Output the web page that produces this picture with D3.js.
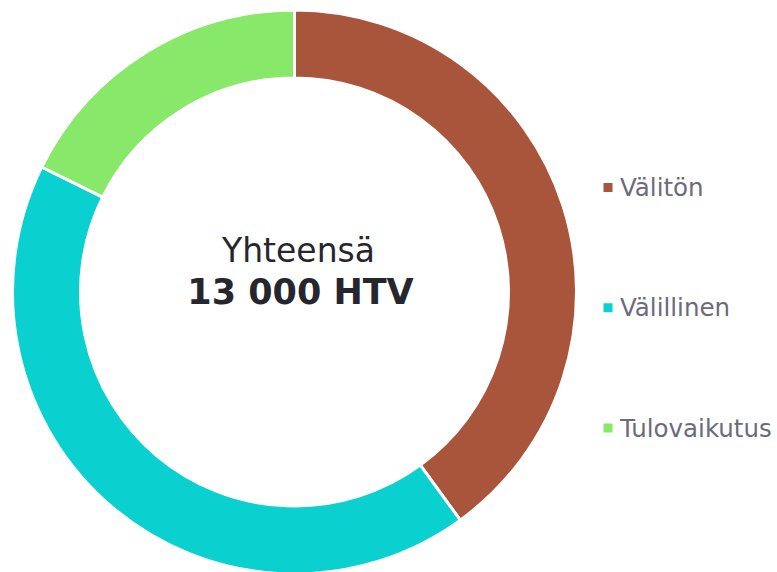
<html>
    <head>
        <meta charset="utf-8">
        <script src="https://d3js.org/d3.v7.min.js"></script>
        <style>
            body { margin: 0; background: #fff; }
            text { font-family: "DejaVu Sans", Verdana, sans-serif; }
        </style>
    </head>
    <body>
        <div id="chart"></div>
        <script>
            // values in HTV, total 13 000
            const categories = ['Välitön', 'Välillinen', 'Tulovaikutus'];
            const values = [5200, 5500, 2300];
            const colors = ['#a8553b', '#0ad0cf', '#88e86a'];
            const totalLabel = 'Yhteensä';
            const totalValue = '13 000 HTV';

            const width = 777, height = 572;
            const cx = 294.5, cy = 292;
            const outerR = 282, innerR = 214;

            const svg = d3.select('#chart')
                .append('svg')
                .attr('width', width)
                .attr('height', height);

            const g = svg.append('g')
                .attr('transform', `translate(${cx},${cy})`);

            const pie = d3.pie().sort(null).value(d => d);
            const arc = d3.arc().innerRadius(innerR).outerRadius(outerR);

            g.selectAll('path')
                .data(pie(values))
                .enter()
                .append('path')
                .attr('d', arc)
                .attr('fill', (d, i) => colors[i])
                .attr('stroke', '#fff')
                .attr('stroke-width', 3);

            g.append('text')
                .attr('text-anchor', 'middle')
                .attr('x', 4)
                .attr('y', -30)
                .attr('font-size', 33)
                .attr('fill', '#26262e')
                .text(totalLabel);

            g.append('text')
                .attr('text-anchor', 'middle')
                .attr('x', 6)
                .attr('y', 12)
                .attr('font-size', 35)
                .attr('font-weight', 'bold')
                .attr('fill', '#26262e')
                .text(totalValue);

            // legend
            const legendY = d3.scalePoint().domain(categories).range([187.5, 428]);
            const legend = svg.append('g');
            categories.forEach((c, i) => {
                legend.append('rect')
                    .attr('x', 603.5)
                    .attr('y', legendY(c) - 4.5)
                    .attr('width', 9)
                    .attr('height', 9)
                    .attr('fill', colors[i]);
                legend.append('text')
                    .attr('x', 620)
                    .attr('y', legendY(c) + 8.5)
                    .attr('font-size', 24.5)
                    .attr('fill', '#6b6b7b')
                    .text(c);
            });
        </script>
    </body>
</html>
